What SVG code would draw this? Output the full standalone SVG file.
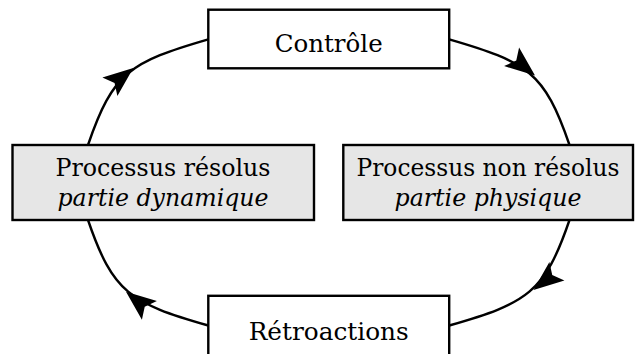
<svg xmlns="http://www.w3.org/2000/svg" xmlns:xlink="http://www.w3.org/1999/xlink" width="636" height="354" viewBox="0 0 636 354">
  <style>
    .box { stroke: #000; stroke-width: 2.4; }
    .white { fill: #fff; }
    .gray { fill: #e6e6e6; }
    .edge { fill: none; stroke: #000; stroke-width: 2.4; }
    .head { fill: #000; stroke: none; }
    text { font-family: "DejaVu Serif", "Liberation Serif", serif; font-size: 24.8px; fill: #000; text-anchor: middle; }
    .it { font-style: italic; }
  </style>
  <defs>
    <path id="ah" d="M0,0 L-30,-12 L-24,0 L-30,12 Z"/>
  </defs>
  <rect width="636" height="354" fill="#fff"/>

  <g id="connectors">
    <path class="edge" d="M88,145 C113,72 130,62 208.3,39.3"/>
    <path class="edge" d="M449.2,39.3 C527.5,62 544.5,72 569.5,145"/>
    <path class="edge" d="M569.5,220 C544.5,293 527.5,303 449.2,325.5"/>
    <path class="edge" d="M208.3,325.5 C130,303 113,293 88,220"/>
    <use class="head" xlink:href="#ah" href="#ah" transform="translate(133.3,68) rotate(-38.7)"/>
    <use class="head" xlink:href="#ah" href="#ah" transform="translate(535,75.5) rotate(38.7)"/>
    <use class="head" xlink:href="#ah" href="#ah" transform="translate(533.5,290) rotate(141.3)"/>
    <use class="head" xlink:href="#ah" href="#ah" transform="translate(126,291.7) rotate(218.7)"/>
  </g>

  <g id="controle">
    <rect class="box white" x="208.3" y="9.7" width="240.9" height="58.6"/>
    <text x="328.7" y="52" textLength="108" lengthAdjust="spacingAndGlyphs">Contrôle</text>
  </g>

  <g id="processus-resolus">
    <rect class="box gray" x="12.5" y="145" width="301.5" height="75"/>
    <text x="163" y="176" textLength="215" lengthAdjust="spacingAndGlyphs">Processus résolus</text>
    <text class="it" x="163" y="205.5" textLength="211" lengthAdjust="spacingAndGlyphs">partie dynamique</text>
  </g>

  <g id="processus-non-resolus">
    <rect class="box gray" x="343.3" y="145" width="289.7" height="75"/>
    <text x="488" y="176" textLength="263" lengthAdjust="spacingAndGlyphs">Processus non résolus</text>
    <text class="it" x="488" y="205.5" textLength="187" lengthAdjust="spacingAndGlyphs">partie physique</text>
  </g>

  <g id="retroactions">
    <rect class="box white" x="208.3" y="295.8" width="240.9" height="64"/>
    <text x="328.7" y="339.5" textLength="160" lengthAdjust="spacingAndGlyphs">Rétroactions</text>
  </g>
</svg>
